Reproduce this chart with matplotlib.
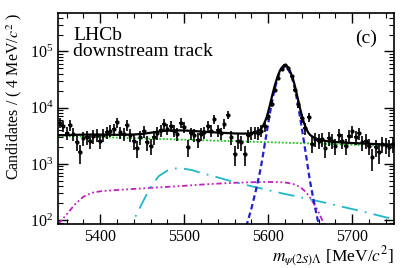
"""Invariant-mass fit of psi(2S) Lambda candidates, downstream tracks (log scale)."""
import matplotlib
matplotlib.use("Agg")
import matplotlib.pyplot as plt
import numpy as np
from matplotlib.ticker import FixedLocator, LogLocator, NullFormatter

plt.rcParams["font.family"] = ["Liberation Serif", "DejaVu Serif"]
plt.rcParams["mathtext.fontset"] = "stix"

# data points: 4 MeV bins from 5350 to 5750
BIN_LO = 5350
BIN_W = 4
COUNTS = [
    5400, 4700, 3600, 4900, 3400, 2400, 1600, 2900, 3000, 2600,
    3100, 3300, 2600, 3300, 3700, 3900, 4100, 5500, 3700, 3400,
    4900, 3300, 2500, 1900, 3000, 3800, 2400, 2100, 3000, 3600,
    4000, 5100, 4200, 4800, 3900, 3400, 5400, 4600, 2000, 3500,
    3300, 2700, 3400, 3700, 4800, 3900, 6300, 4000, 3500, 5200,
    7500, 3000, 1500, 2600, 2400, 1500, 3200, 3600, 3700, 3600,
    3900, 4800, 7200, 11800, 21000, 34000, 49000, 57000, 51000, 36000,
    21000, 11500, 6500, 4300, 6900, 2300, 2800, 2600, 2800, 1900,
    2900, 2600, 2100, 3300, 2600, 2100, 3100, 3800, 3000, 3500,
    2400, 2600, 2100, 1300, 2000, 1600, 2300, 2200, 2000, 2300,
]
ERR_SCALE = 15  # weighted-candidate errors, ~ scale * sqrt(N)

# fit components sampled along the mass axis
CURVE_M = (list(range(5350, 5561, 10)) + list(range(5565, 5591, 5))
           + list(range(5592, 5651, 2)) + list(range(5655, 5681, 5))
           + list(range(5690, 5751, 10)))
SIGNAL = (
    [1] * 19 + [2, 5, 16]
    + [28, 50, 88, 160, 320, 700]
    + [1000, 1500, 2300, 3400, 5200, 7800, 11500, 16300, 22000, 28500,
       35500, 42500, 48000, 52000, 53000, 51800, 47500, 41500, 34500, 27500,
       20500, 14500, 10000, 6600, 4300, 2800, 1800, 1150, 720, 470]
    + [190, 85, 40, 18, 8, 4]
    + [1] * 7
)
COMB_BKG = (
    [3150, 3120, 3090, 3050, 3020, 2990, 2960, 2930, 2900, 2870, 2840,
     2810, 2780, 2750, 2720, 2690, 2670, 2640, 2610, 2580, 2560, 2530]
    + [2518, 2505, 2492, 2479, 2466, 2454]
    + [2450, 2445, 2440, 2435, 2430, 2425, 2420, 2415, 2410, 2405,
       2400, 2395, 2390, 2385, 2380, 2375, 2370, 2365, 2360, 2355,
       2350, 2345, 2340, 2335, 2330, 2325, 2320, 2315, 2310, 2305]
    + [2290, 2280, 2270, 2255, 2245, 2230]
    + [2210, 2185, 2165, 2140, 2120, 2100, 2080]
)
PART_RECO = (
    [85, 125, 190, 260, 305, 325, 335, 342, 350, 358, 366,
     374, 382, 390, 398, 407, 417, 427, 436, 445, 453, 460]
    + [463, 466, 469, 471, 473, 474]
    + [475, 475, 476, 476, 476, 476, 476, 476, 475, 474,
       473, 472, 470, 468, 465, 461, 456, 450, 443, 435,
       425, 413, 399, 383, 365, 345, 323, 299, 274, 248]
    + [190, 138, 95, 62, 40, 25]
    + [10, 4, 1, 1, 1, 1, 1]
)
REFLECTION = (
    [1, 1, 1, 1, 2, 3, 6, 15, 45, 100, 200,
     390, 610, 760, 830, 820, 770, 690, 630, 575, 520, 475]
    + [455, 435, 418, 400, 385, 370]
    + [364, 358, 352, 346, 340, 335, 330, 325, 320, 315,
       310, 305, 300, 295, 291, 287, 283, 279, 275, 271,
       267, 263, 259, 255, 251, 247, 243, 240, 236, 232]
    + [224, 216, 208, 200, 192, 185]
    + [170, 157, 145, 133, 122, 112, 103]
)

counts = np.array(COUNTS, dtype=float)
centers = BIN_LO + BIN_W * (np.arange(len(counts)) + 0.5)
errors = ERR_SCALE * np.sqrt(counts)

m = np.array(CURVE_M, dtype=float)
sig = np.array(SIGNAL, dtype=float)
comb = np.array(COMB_BKG, dtype=float)
part = np.array(PART_RECO, dtype=float)
refl = np.array(REFLECTION, dtype=float)
total = sig + comb + part + refl

fig = plt.figure(figsize=(4.15, 2.68), dpi=100)
ax = fig.add_axes([0.140, 0.164, 0.810, 0.787])

ax.plot(m, comb, color="#22c022", lw=1.3, linestyle=(0, (1, 1)))
ax.plot(m, part, color="#c020c0", lw=1.3, linestyle=(0, (3, 1.5, 1, 1.5, 1, 1.5)))
ax.plot(m, refl, color="#20b8c8", lw=1.3, linestyle=(0, (9, 4, 1, 4)))
ax.plot(m, sig, color="#2020d0", lw=1.6, linestyle=(0, (2.5, 1.5)))
ax.plot(m, total, color="black", lw=1.6)

ax.errorbar(centers, counts, xerr=BIN_W / 2, yerr=errors, fmt="o", ms=2,
            color="black", ecolor="black", elinewidth=1.2, capsize=0)

ax.set_yscale("log")
ax.set_xlim(5350, 5750)
ax.set_ylim(85, 4.8e5)

ax.xaxis.set_major_locator(FixedLocator([5400, 5500, 5600, 5700]))
ax.xaxis.set_minor_locator(FixedLocator(list(range(5360, 5750, 20))))
ax.yaxis.set_major_locator(LogLocator(base=10))
ax.yaxis.set_minor_locator(LogLocator(base=10, subs=np.arange(2, 10)))
ax.yaxis.set_minor_formatter(NullFormatter())
ax.tick_params(which="both", direction="in", top=True, right=True, labelsize=11.5)
ax.tick_params(which="major", length=7, width=1)
ax.tick_params(which="minor", length=3.5, width=0.8)
for s in ax.spines.values():
    s.set_linewidth(1.2)

ax.set_ylabel(r"Candidates / ( 4 MeV/$c^2$ )", fontsize=11.5, loc="top", labelpad=4)
ax.set_xlabel(r"$m_{\psi(2S)\mathit{\Lambda}}$ [MeV/$c^2$]", fontsize=12.5, loc="right",
              labelpad=0)

ax.text(0.045, 0.935, "LHCb\ndownstream track", transform=ax.transAxes, fontsize=14,
        va="top", ha="left", linespacing=0.95)
ax.text(0.95, 0.92, "(c)", transform=ax.transAxes, fontsize=14, va="top", ha="right")

fig.savefig("out.png", dpi=100)
